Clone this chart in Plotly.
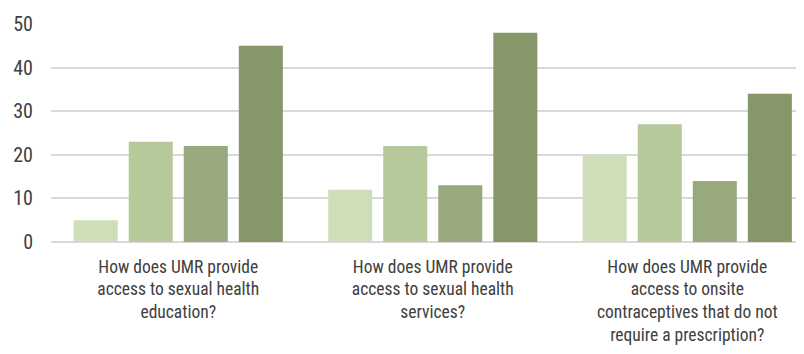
import plotly.graph_objects as go

categories = [
    "How does UMR provide<br>access to sexual health<br>education?",
    "How does UMR provide<br>access to sexual health<br>services?",
    "How does UMR provide<br>access to onsite<br>contraceptives that do not<br>require a prescription?",
]
series_names = ["Series 1", "Series 2", "Series 3", "Series 4"]
series_values = [
    [5, 12, 20],
    [23, 22, 27],
    [22, 13, 14],
    [45, 48, 34],
]
colors = ["#CDDEB8", "#B5C99B", "#97A97D", "#86976A"]
y_ticks = [0, 10, 20, 30, 40, 50]

xfont = dict(family="Roboto Condensed, Liberation Sans, sans-serif", size=17.5, color="#404040")
yfont = dict(family="Roboto Condensed, Liberation Sans, sans-serif", size=20, color="#404040")

fig = go.Figure()
for name, vals, col in zip(series_names, series_values, colors):
    fig.add_trace(go.Bar(x=categories, y=vals, name=name, marker_color=col,
                         marker_line_width=0))

fig.update_layout(
    width=804, height=354,
    margin=dict(l=43, r=0, t=16, b=120),
    paper_bgcolor="white", plot_bgcolor="white",
    barmode="group", bargap=0.135, bargroupgap=0.2,
    showlegend=False,
    font=xfont,
)
fig.update_xaxes(type="category", range=[-0.5, 2.49], showgrid=False,
                 showline=False, zeroline=False, ticks="", tickfont=xfont,
                 tickangle=0, ticklabelstandoff=12, automargin=False)
fig.update_yaxes(range=[0, 50], tickvals=y_ticks, showgrid=True,
                 gridcolor="#D9D9D9", gridwidth=1.5, zeroline=True,
                 zerolinecolor="#D9D9D9", zerolinewidth=1.5, showline=False,
                 ticks="", tickfont=yfont, ticklabelstandoff=17, automargin=False)
fig.write_html("out.html")
